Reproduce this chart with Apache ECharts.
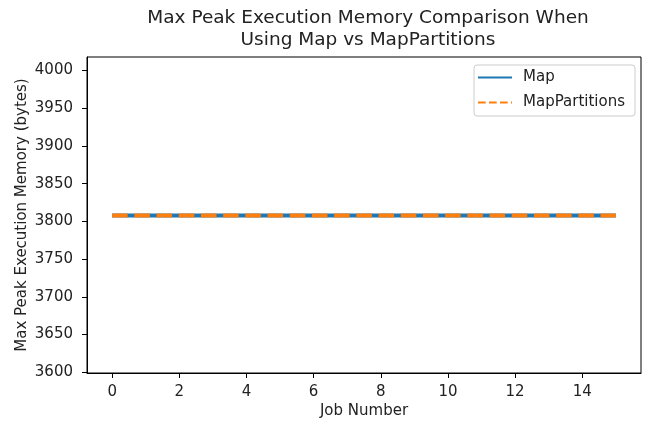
<!DOCTYPE html>
<html>
<head>
<meta charset="utf-8">
<script src="https://cdn.jsdelivr.net/npm/echarts@6/dist/echarts.min.js"></script>
<style>
html,body{margin:0;padding:0;background:#fff;}
#chart{width:647px;height:424px;}
</style>
</head>
<body>
<div id="chart"></div>
<script>
// Data
const jobNumbers = [0,1,2,3,4,5,6,7,8,9,10,11,12,13,14,15];
const mapValues = [3808,3808,3808,3808,3808,3808,3808,3808,3808,3808,3808,3808,3808,3808,3808,3808];
const mapPartitionsValues = [3808,3808,3808,3808,3808,3808,3808,3808,3808,3808,3808,3808,3808,3808,3808,3808];
const xTicks = [0,2,4,6,8,10,12,14];
const yTicks = [3600,3650,3700,3750,3800,3850,3900,3950,4000];

const FONT = 'DejaVu Sans';
const TXT = '#222';
const FS = 15;

const chart = echarts.init(document.getElementById('chart'), null, {renderer:'canvas'});
chart.setOption({
  animation: false,
  backgroundColor: '#fff',
  textStyle: {fontFamily: FONT},
  title: {
    text: 'Max Peak Execution Memory Comparison When\nUsing Map vs MapPartitions',
    left: 363, top: 2, textAlign: 'center',
    textStyle: {fontFamily: FONT, fontSize: 18.5, fontWeight: 'normal', color: TXT, lineHeight: 22}
  },
  grid: {left: 87, right: 6, top: 57, bottom: 51, show: true, borderColor: '#000', borderWidth: 1, backgroundColor: '#fff'},
  legend: {
    orient: 'vertical', left: 474, top: 65,
    padding: [5, 10, 6, 3],
    itemWidth: 34, itemHeight: 14, itemGap: 10,
    borderColor: '#ccc', borderWidth: 1, borderRadius: 3, backgroundColor: '#fff',
    textStyle: {fontFamily: FONT, fontSize: FS, color: TXT, padding: [0,0,0,6]},
    data: [
      {name: 'Map', itemStyle: {opacity: 0}, lineStyle: {width: 2, type: 'solid', opacity: 1}},
      {name: 'MapPartitions', itemStyle: {opacity: 0}, lineStyle: {width: 2, type: [7.7, 3.3], opacity: 1}}
    ]
  },
  xAxis: {
    type: 'value', min: -0.75, max: 15.75,
    name: 'Job Number', nameLocation: 'middle', nameGap: 31, nameMoveOverlap: false,
    nameTextStyle: {fontFamily: FONT, fontSize: FS, color: TXT},
    splitLine: {show: false},
    axisLine: {show: true, onZero: false, lineStyle: {color: '#000', width: 1}},
    axisTick: {show: true, length: 5, lineStyle: {color: '#000'}, customValues: xTicks},
    axisLabel: {fontFamily: FONT, fontSize: FS, color: TXT, margin: 12, customValues: xTicks, formatter: v => String(v)}
  },
  yAxis: {
    type: 'value', min: 3599, max: 4018,
    name: 'Max Peak Execution Memory (bytes)', nameLocation: 'middle', nameGap: 57, nameMoveOverlap: false,
    nameTextStyle: {fontFamily: FONT, fontSize: FS, color: TXT},
    splitLine: {show: false},
    axisLine: {show: true, onZero: false, lineStyle: {color: '#000', width: 1}},
    axisTick: {show: true, length: 5, lineStyle: {color: '#000'}, customValues: yTicks},
    axisLabel: {fontFamily: FONT, fontSize: FS, color: TXT, margin: 14, customValues: yTicks, formatter: v => String(v)}
  },
  series: [
    {
      name: 'Map', type: 'line', symbol: 'none',
      data: jobNumbers.map((x, i) => [x, mapValues[i]]),
      lineStyle: {color: '#1f77b4', width: 4, type: 'solid'},
      itemStyle: {color: '#1f77b4'}
    },
    {
      name: 'MapPartitions', type: 'line', symbol: 'none',
      data: jobNumbers.map((x, i) => [x, mapPartitionsValues[i]]),
      lineStyle: {color: '#ff7f0e', width: 4, type: [15.5, 6.7]},
      itemStyle: {color: '#ff7f0e'}
    }
  ]
});
</script>
</body>
</html>
